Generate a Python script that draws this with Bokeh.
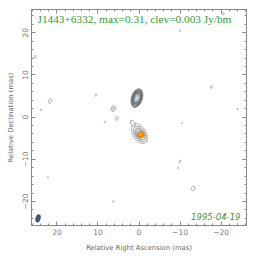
from bokeh.plotting import figure
from bokeh.models import Range1d, LinearAxis, Label, FixedTicker
from bokeh.embed import file_html
from bokeh.resources import INLINE
import math

# ---- data ----
title_text = "J1443+6332, max=0.31, clev=0.003 Jy/bm"
date_text = "1995-04-19"

# core component contours
core_x = [-0.1, -0.2, -0.2, -0.2, 1.5]
core_y = [-3.9, -4.0, -4.0, -4.0, -1.5]
core_w = [5.4, 4.2, 3.2, 2.3, 1.7]
core_h = [3.1, 2.4, 1.9, 1.4, 1.0]
core_ang = [-58, -58, -58, -58, -58]
core_col = ["#b0b0b0", "#a0a0a0", "#909090", "#888888", "#a8a8a8"]

# jet blob contours
blob_x = [0.5, 0.5, 0.5, 0.5, 0.5, 0.5, 0.5]
blob_y = [4.5, 4.5, 4.5, 4.5, 4.5, 4.5, 4.5]
blob_w = [2.6, 2.3, 2.0, 1.7, 1.4, 1.0, 0.6]
blob_h = [4.5, 4.0, 3.5, 2.9, 2.3, 1.7, 1.0]
blob_col = ["#8a8a8a", "#7a7a7a", "#707070", "#6a6a6a", "#7a7a7a", "#9a9a9a", "#b8c8d8"]

# weak features
weak_x = [6.3, 6.3, 5.4, 21.7, -13.2, -10.0, -20.5, -17.6, 10.5, 23.9, 8.3, -10.5, -24.0, -10.0, -9.5, 22.2, 6.3, 25.3]
weak_y = [2.0, 2.0, -0.3, 3.8, -16.9, 20.5, 24.5, 7.1, 5.2, 1.7, -1.2, -1.4, 1.9, -10.5, -12.1, -14.3, -20.0, 14.3]
weak_w = [1.0, 0.5, 0.6, 0.7, 0.9, 0.3, 0.5, 0.4, 0.4, 0.3, 0.3, 0.3, 0.3, 0.4, 0.3, 0.3, 0.3, 0.4]
weak_h = [1.5, 0.8, 1.0, 1.2, 1.2, 0.4, 0.7, 0.7, 0.5, 0.4, 0.4, 0.3, 0.4, 0.7, 0.4, 0.3, 0.4, 0.7]

# peak marker
peak_x = [-0.3]
peak_y = [-4.1]

# beam
beam_x = [24.6]
beam_y = [-24.0]
beam_w = [1.1]
beam_h = [1.9]
beam_ang = [-15]

ticks = [-20, -10, 0, 10, 20]
minor = list(range(-26, 27, 2))
labels = {-20: "\u221220", -10: "\u221210", 0: "0", 10: "10", 20: "20"}

p = figure(output_backend="svg", toolbar_location=None,
           frame_width=215, frame_height=216,
           x_range=Range1d(26.2, -26.2), y_range=Range1d(-25.7, 25.5),
           min_border_left=31, min_border_top=9, min_border_right=6, min_border_bottom=6)
p.background_fill_color = "white"
p.border_fill_color = "white"
p.outline_line_color = "#888888"
p.grid.visible = False

for ax in [p.xaxis[0], p.yaxis[0]]:
    ax.ticker = FixedTicker(ticks=ticks, minor_ticks=minor)
    ax.major_tick_in = 4
    ax.major_tick_out = 0
    ax.minor_tick_in = 2
    ax.minor_tick_out = 0
    ax.axis_line_color = "#888888"
    ax.major_tick_line_color = "#888888"
    ax.minor_tick_line_color = "#888888"
    ax.major_label_text_color = "#777777"
    ax.major_label_text_font = "DejaVu Sans"
    ax.major_label_text_font_size = "7.5px"
    ax.axis_label_text_color = "#666666"
    ax.axis_label_text_font = "DejaVu Sans"
    ax.axis_label_text_font_size = "6.8px"
    ax.axis_label_text_font_style = "normal"
    ax.major_label_overrides = labels
p.xaxis.major_label_standoff = 3
p.xaxis.axis_label_standoff = 6
p.yaxis.major_label_standoff = 4
p.yaxis.axis_label_standoff = 4
p.xaxis.axis_label = "Relative Right Ascension (mas)"
p.yaxis.axis_label = "Relative Declination (mas)"
p.yaxis.major_label_orientation = "vertical"

for loc in ["right", "above"]:
    ax = LinearAxis(ticker=FixedTicker(ticks=ticks, minor_ticks=minor))
    ax.major_tick_in = 4
    ax.major_tick_out = 0
    ax.minor_tick_in = 2
    ax.minor_tick_out = 0
    ax.axis_line_color = "#888888"
    ax.major_tick_line_color = "#888888"
    ax.minor_tick_line_color = "#888888"
    ax.major_label_overrides = {t: "" for t in ticks}
    ax.major_label_standoff = 0
    p.add_layout(ax, loc)

# core contours
p.ellipse(x=core_x, y=core_y, width=core_w, height=core_h,
          angle=[a * math.pi / 180 for a in core_ang],
          fill_color=None, line_color=core_col, line_width=1)
# blob
p.ellipse(x=blob_x[-1:], y=blob_y[-1:], width=blob_w[-1:], height=blob_h[-1:],
          angle=-18 * math.pi / 180, fill_color="#d8e6f2", line_color=None)
p.ellipse(x=blob_x, y=blob_y, width=blob_w, height=blob_h,
          angle=-18 * math.pi / 180, fill_color=None, line_color=blob_col, line_width=1.2)
# weak
p.ellipse(x=weak_x, y=weak_y, width=weak_w, height=weak_h,
          angle=-20 * math.pi / 180, fill_color=None, line_color="#a0a0a0", line_width=0.8)
# peak
p.circle(x=peak_x, y=peak_y, radius=0.7, fill_color="#f7a000", line_color="#c07000", line_width=0.8)
# beam
p.ellipse(x=beam_x, y=beam_y, width=beam_w, height=beam_h,
          angle=[a * math.pi / 180 for a in beam_ang],
          fill_color="#45597a", line_color="#2f3f5a", line_width=0.5)

p.add_layout(Label(x=6, y=213, x_units="screen", y_units="screen", text=title_text,
                   text_font="Liberation Serif", text_font_size="11.3px",
                   text_color="#339933", text_baseline="top", text_align="left"))
p.add_layout(Label(x=209, y=6, x_units="screen", y_units="screen", text=date_text,
                   text_font="DejaVu Sans", text_font_size="8.5px", text_font_style="italic",
                   text_color="#339933", text_baseline="bottom", text_align="right"))

open("out.html", "w").write(file_html(p, INLINE))
